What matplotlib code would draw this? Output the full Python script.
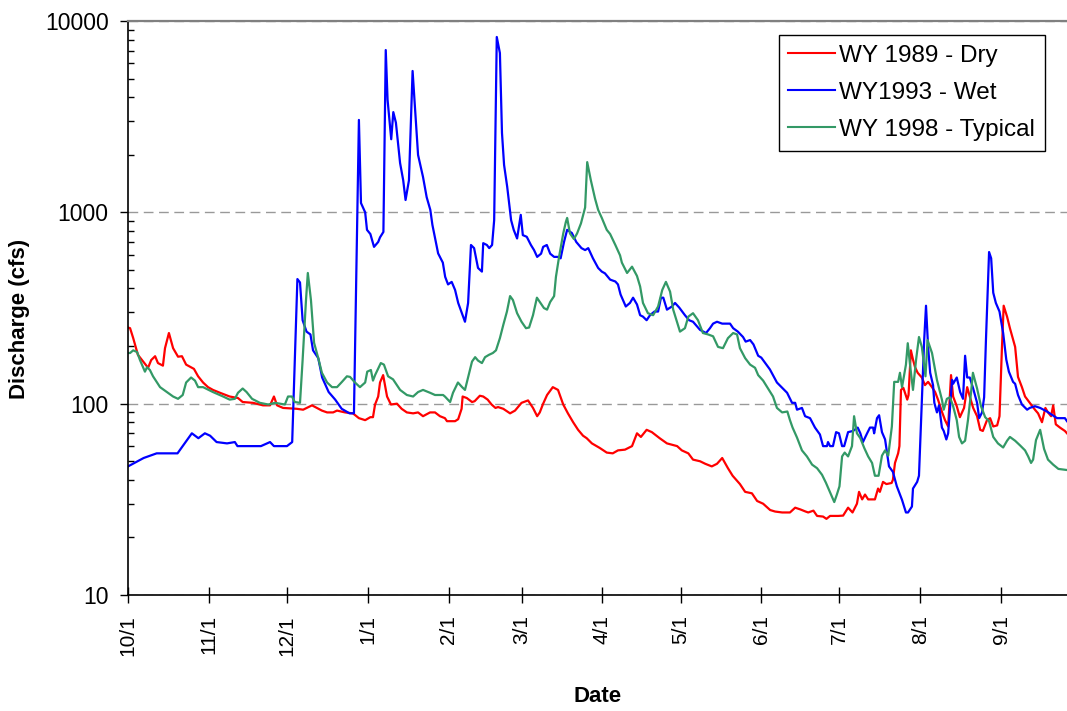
import matplotlib
matplotlib.use('Agg')
import matplotlib.pyplot as plt
import matplotlib.ticker as mticker

plt.rcParams['font.family'] = ['Liberation Sans', 'DejaVu Sans']

# day of water year (0 = Oct 1), discharge in cfs
dry_1989 = [(0, 250), (0.8, 248), (2, 220), (3.8, 180), (5.8, 166), (7.7, 154), (8.9, 169), (10.4, 177),
            (11.5, 163), (13.4, 158), (14.2, 195), (15.7, 234), (17.3, 195), (19.2, 176), (20.7, 177),
            (22.3, 160), (23.8, 156), (25.3, 152), (26.9, 139), (28.8, 129), (30.7, 122), (32.6, 118),
            (35.3, 114), (39, 109), (42.2, 107), (44, 102), (48, 101), (51.8, 98), (54.5, 98), (56, 109),
            (57.2, 98), (59.5, 95), (64.8, 94), (67.2, 93), (70.6, 98), (72.5, 95), (74.4, 92), (76.4, 90),
            (78.7, 90), (80.2, 92), (83.3, 90), (86.3, 89), (88.6, 84), (91, 82), (93, 85), (94, 85),
            (94.8, 99), (96, 109), (96.7, 129), (97.9, 141), (99.4, 109), (100.9, 99), (103.2, 100),
            (105, 94), (107, 90), (109.4, 89), (111.3, 90), (113.2, 86), (115.9, 90), (117.8, 90),
            (119.7, 86), (121.6, 84), (122.4, 81), (125.5, 81), (126.7, 83), (128, 94), (128.4, 109),
            (130, 107), (132, 102), (133, 103), (135, 110), (136.3, 109), (138, 105), (139.5, 99),
            (141, 95), (142, 96), (144, 94), (146.6, 89), (148.5, 92), (151, 101), (153.5, 104),
            (155.4, 95), (157, 86), (158, 90), (159.3, 100), (160.8, 111), (163, 122), (165, 118),
            (167, 99), (168.8, 89), (170.8, 80), (172.7, 73), (174.6, 68), (176, 66), (178, 62),
            (181, 58.7), (183.7, 55.5), (186, 55), (188, 57), (190.7, 57.5), (193.4, 60), (195.3, 70),
            (196.8, 67), (199, 73), (201, 71), (204, 66), (206.8, 62), (210.7, 60), (212.5, 57),
            (215, 55), (216.8, 51), (219.5, 50), (221.5, 48.5), (224, 47), (226, 48.5), (228, 52),
            (230.2, 46), (232, 42), (234.8, 38), (236.8, 34.6), (239.4, 34), (241.4, 31), (243.7, 30),
            (246.4, 27.8), (248.3, 27.3), (251, 27), (254, 27), (256, 28.6), (258, 28), (260, 27.3),
            (261, 27), (263, 27.6), (264.4, 25.9), (266.7, 25.7), (268, 25), (269.4, 25.9), (272.5, 25.9),
            (274.4, 26), (276.3, 28.6), (278, 27), (279.7, 30), (280.5, 34.6), (281.7, 31.6),
            (282.8, 33.5), (284, 31.6), (286.6, 31.6), (287.8, 36), (288.5, 34.6), (289.7, 39),
            (291, 38), (293, 38.5), (293.5, 40), (294.3, 49), (295.5, 55), (296, 60), (296.6, 118),
            (297.5, 121), (299, 105), (299.5, 111), (300.4, 190), (301.2, 170), (302, 155), (303, 145),
            (304.6, 137), (305.8, 125), (307, 130), (308.5, 122), (309.7, 115), (310.8, 105),
            (312.4, 90), (313.5, 82), (314.7, 76), (315.8, 141), (316.6, 109), (318, 97), (319.2, 85),
            (320.8, 95), (322, 122), (323, 109), (324.3, 95), (325.8, 86), (327, 73), (328, 72),
            (329.6, 82), (330.8, 84), (332, 76), (333.5, 77), (334.4, 86), (335.3, 190), (336, 325),
            (337.3, 285), (338.4, 248), (340.4, 198), (341.5, 138), (343, 122), (344.2, 109), (346, 101),
            (348, 93), (349.2, 89), (350.7, 80), (352, 95), (353, 90), (354.2, 86), (355, 98), (356, 78),
            (357.6, 75), (359.5, 72), (360.3, 70)]

wet_1993 = [(0, 47), (6, 52), (11, 55), (19, 55), (21, 60), (24.5, 70), (27, 66), (29.5, 70), (31.5, 68),
            (34, 63), (38, 62), (41, 63), (42, 60), (46, 60), (51, 60), (54.5, 63), (56, 60), (61, 60),
            (63, 63), (65, 448), (66, 430), (67, 273), (68.5, 238), (70, 230), (71, 190), (73, 173),
            (74.5, 137), (77, 115), (79.5, 105), (82, 94), (85, 89), (86.7, 89), (88.6, 3040),
            (89.4, 1118), (91, 1000), (91.7, 810), (93, 770), (94.4, 660), (96, 700), (96.7, 740),
            (98, 790), (98.9, 7050), (99.6, 3870), (101, 2410), (101.8, 3340), (102.8, 2940),
            (104.4, 1810), (105.6, 1470), (106.5, 1160), (107.8, 1470), (109.2, 5480), (111.3, 1995),
            (113.2, 1530), (114.6, 1200), (116, 1030), (116.8, 860), (119, 610), (120.8, 546),
            (121.7, 460), (122.8, 420), (124.2, 433), (125.5, 393), (126.7, 336), (129.3, 268),
            (130.5, 336), (131.6, 675), (132.8, 650), (134.3, 512), (135.8, 490), (136.3, 690),
            (137.7, 675), (138.6, 650), (139.7, 675), (140.5, 910), (141.5, 8250), (142.7, 6800),
            (143.5, 2600), (144.3, 1770), (145.5, 1360), (147, 910), (148, 810), (149.3, 730),
            (150.7, 970), (151.5, 760), (153, 745), (154.6, 675), (155.8, 635), (157, 585), (158.5, 608),
            (159.3, 660), (160.7, 675), (162, 608), (163.5, 585), (165, 585), (166, 575), (167.3, 700),
            (168.5, 810), (170.3, 780), (172, 700), (174, 650), (175.4, 635), (176.6, 650), (178.4, 575),
            (180.4, 512), (181.8, 490), (183, 480), (185, 445), (187, 435), (188, 420), (189, 372),
            (191, 322), (192.6, 336), (193.8, 358), (195.3, 330), (196.5, 290), (197.6, 285), (199, 273),
            (200.3, 290), (202, 303), (203.4, 303), (204.5, 358), (205.4, 358), (206.8, 310),
            (208.7, 322), (209.9, 336), (211.5, 318), (213.7, 290), (215.3, 273), (216.8, 268),
            (219.5, 243), (221.8, 234), (223.3, 248), (224.5, 262), (226, 268), (228, 262), (231, 262),
            (232.2, 248), (234, 238), (236, 223), (237, 211), (238.7, 215), (240, 204), (241.8, 178),
            (243, 174), (246.3, 151), (249, 129), (252.9, 114), (254.8, 101), (256, 101), (256.7, 93),
            (258.6, 95), (259.8, 86), (261.7, 84), (263.6, 75), (265.5, 69), (266.7, 60), (268.2, 60),
            (268.6, 63), (269.4, 60), (270.5, 60), (271.7, 71), (272.8, 70), (274, 60), (274.8, 60),
            (276.3, 71), (278.2, 72), (280, 75), (281, 70), (282, 63), (283.6, 70), (284.7, 75),
            (285.9, 75), (286.3, 70), (287.4, 84), (288.2, 87), (289.3, 71), (290.5, 65), (292, 47),
            (293.5, 44), (295, 37), (297, 31.4), (298.5, 27), (299.3, 27), (300.8, 29), (301.2, 36),
            (302.8, 39), (303.5, 42), (304.7, 114), (305.5, 215), (306.2, 325), (307, 198), (307.8, 145),
            (308.9, 125), (309.4, 101), (310.4, 90), (311.2, 98), (312.3, 75), (313, 72), (314, 65),
            (314.7, 70), (316.2, 133), (316.6, 127), (318, 137), (319.3, 115), (320.4, 106), (321.2, 178),
            (322, 137), (323, 137), (324.3, 120), (325.8, 101), (326.6, 84), (327.7, 90), (328.5, 108),
            (329.2, 215), (330.4, 620), (331.2, 575), (332, 380), (333, 336), (334.4, 303), (335.8, 234),
            (337, 170), (338, 147), (339.6, 130), (340.4, 127), (341.5, 111), (343, 99), (345, 93),
            (346, 95), (348, 97), (350, 95), (352.6, 91), (356.5, 84), (359.5, 84), (360.3, 81)]

typical_1998 = [(0, 184), (0.8, 184), (2, 190), (3.5, 186), (4.6, 169), (5.8, 155), (6.5, 147), (7.3, 155),
                (8.4, 150), (9.6, 139), (12.3, 122), (14.9, 115), (17.3, 109), (19.2, 106), (21, 111),
                (22.3, 129), (24.2, 137), (25.7, 132), (26.9, 122), (28.8, 122), (32.6, 115), (36.5, 109),
                (39, 105), (41, 106), (42.2, 114), (44, 120), (45.5, 115), (47.6, 106), (50.6, 101),
                (53.8, 99), (56.4, 101), (58.3, 100), (60.2, 99), (61.4, 109), (62.9, 109), (64, 102),
                (66, 101), (67, 169), (68.3, 348), (69, 482), (70.2, 348), (71.4, 208), (73, 173),
                (74.4, 145), (76.4, 129), (78.3, 122), (80.2, 122), (82.1, 130), (84, 139), (85.2, 138),
                (87.1, 129), (89, 122), (91, 129), (91.8, 147), (93.2, 150), (94, 132), (94.8, 141),
                (97, 163), (98.2, 160), (99.8, 139), (101.7, 134), (104.4, 118), (107, 111), (109.4, 109),
                (111.3, 115), (113.2, 118), (115.9, 114), (117.8, 111), (120.9, 111), (121.6, 109),
                (123.6, 102), (124.7, 114), (126.6, 129), (128.2, 122), (129.3, 118), (130.5, 137),
                (132, 166), (133.2, 175), (134.3, 168), (135.8, 163), (137, 175), (138.5, 180), (140, 184),
                (141.2, 190), (142.7, 220), (144, 258), (145.4, 303), (146.6, 365), (147.7, 348),
                (149.3, 297), (151, 268), (152.7, 248), (153.9, 250), (155.4, 290), (156.9, 358),
                (158, 340), (159.6, 316), (160.8, 310), (162, 340), (163.5, 365), (164.2, 460),
                (165.4, 585), (167, 775), (168, 890), (168.5, 935), (169.6, 775), (171.1, 725),
                (172.3, 775), (173.8, 875), (175.4, 1060), (176.2, 1830), (177.6, 1470), (179.2, 1180),
                (180.4, 1030), (181.8, 935), (183.7, 810), (185, 770), (187, 675), (188.8, 596),
                (189.5, 546), (191.5, 482), (193.4, 520), (195.3, 465), (196.5, 410), (197.6, 336),
                (199.5, 297), (201.5, 290), (203.4, 322), (205, 393), (206.4, 433), (208, 385),
                (209.2, 310), (211.8, 238), (213.7, 248), (215, 285), (216.8, 297), (218.7, 273),
                (220.6, 234), (222.6, 230), (224.5, 225), (226.4, 198), (228.3, 195), (230.2, 220),
                (232.2, 234), (233.7, 230), (234.8, 195), (236.8, 173), (238.7, 160), (240.6, 154),
                (241.8, 141), (243.7, 132), (245.6, 120), (247.5, 109), (249, 95), (251, 90), (253, 91),
                (254, 82), (255, 75), (256.7, 66.5), (258.6, 57), (260.5, 53), (262.5, 48), (264.4, 46),
                (266.3, 42.5), (267.8, 38.6), (269.4, 34.4), (271, 30.6), (272, 33.5), (273, 37), (274, 53),
                (275, 55.5), (276.3, 53), (277.8, 60), (278.6, 86), (279.7, 70), (281, 66), (282.5, 58.7),
                (284, 53), (285.5, 49), (286.6, 42), (288, 42), (289.3, 53.5), (290.5, 57), (291.7, 53.5),
                (293.1, 76), (294, 130), (295.5, 130), (296.2, 145), (297, 122), (298.5, 160), (299.2, 207),
                (300, 163), (301.2, 118), (302.4, 170), (303.5, 223), (304.6, 198), (306, 139),
                (306.8, 215), (308.5, 184), (310.4, 133), (312.3, 105), (313, 93), (314.2, 106),
                (315.4, 108), (316.6, 97), (318, 82), (318.9, 67), (320, 62), (321.2, 64), (322.3, 82),
                (323.5, 115), (324.2, 145), (325.8, 120), (327.3, 97), (328.9, 85), (330.4, 81), (332, 67),
                (333.8, 62), (335.8, 59), (337.3, 64), (338.4, 67), (340.4, 64), (342.3, 60.5),
                (344.2, 57), (345.4, 53), (346.5, 49), (347.3, 51), (348.4, 64.5), (350, 73), (351.5, 58),
                (353, 51), (355, 48), (357, 45.6), (360.3, 45)]

month_days = [0, 31, 61, 92, 123, 151, 182, 212, 243, 273, 304, 335]
month_labels = ['10/1', '11/1', '12/1', '1/1', '2/1', '3/1', '4/1', '5/1', '6/1', '7/1', '8/1', '9/1']

series = [
    ('WY 1989 - Dry', dry_1989, '#FF0000'),
    ('WY1993 - Wet', wet_1993, '#0000FF'),
    ('WY 1998 - Typical', typical_1998, '#339966'),
]

fig = plt.figure(figsize=(10.67, 7.11), dpi=100)
ax = fig.add_axes([128/1067, 116/711, 939/1067, 574/711])

for name, pts, col in series:
    d, q = zip(*pts)
    ax.plot(d, q, color=col, lw=1.6, label=name)

ax.set_yscale('log')
ax.set_ylim(10, 10000)
ax.set_xlim(0, 360.3)

ax.yaxis.set_major_locator(mticker.FixedLocator([10, 100, 1000, 10000]))
ax.yaxis.set_major_formatter(mticker.FuncFormatter(lambda v, p: f'{v:.0f}'))
ax.yaxis.set_minor_locator(mticker.LogLocator(base=10, subs=range(2, 10)))
ax.yaxis.set_minor_formatter(mticker.NullFormatter())
ax.tick_params(axis='y', which='major', direction='out', length=6, width=1, labelsize=16.5, pad=8)
ax.tick_params(axis='y', which='minor', direction='in', length=4, width=1)

ax.set_xticks(month_days)
ax.set_xticklabels(month_labels, rotation=90)
ax.tick_params(axis='x', which='major', direction='inout', length=11, width=1, labelsize=15, pad=9)

ax.yaxis.grid(True, which='major', color='#999999', linestyle=(0, (7, 4)), lw=1)
ax.set_axisbelow(True)

ax.spines['right'].set_visible(False)
ax.spines['top'].set_color('#808080')
ax.spines['top'].set_linewidth(1.6)
ax.spines['left'].set_linewidth(1.2)
ax.spines['bottom'].set_linewidth(1.2)

leg = ax.legend(loc='upper right', bbox_to_anchor=(0.9766, 0.9756), borderaxespad=0, fontsize=17.5,
                frameon=True, fancybox=False, edgecolor='black', framealpha=1,
                handlelength=1.9, handletextpad=0.2, labelspacing=0.62, borderpad=0.4)
leg.get_frame().set_linewidth(1)
for ln in leg.get_lines():
    ln.set_linewidth(1.5)

fig.text(598/1067, 1 - 697/711, 'Date', ha='center', va='center', fontsize=16, fontweight='bold')
fig.text(20/1067, 1 - 319/711, 'Discharge (cfs)', ha='center', va='center', rotation=90,
         fontsize=16, fontweight='bold')

plt.savefig('out.png', dpi=100)
